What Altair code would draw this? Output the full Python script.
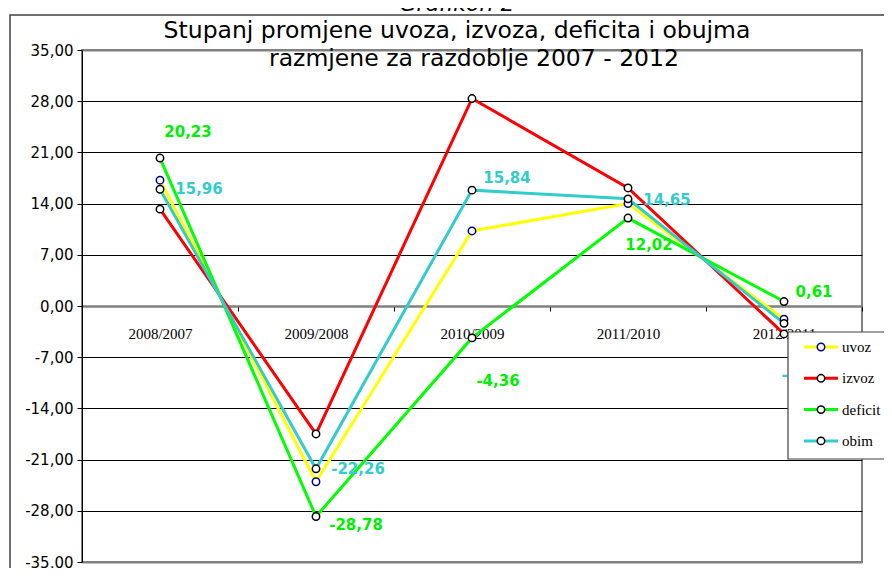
import altair as alt
import pandas as pd

categories = ["2008/2007", "2009/2008", "2010/2009", "2011/2010", "2012/2011"]
series_names = ["uvoz", "izvoz", "deficit", "obim"]
uvoz = [17.20, -24.03, 10.26, 14.01, -1.79]
izvoz = [13.24, -17.49, 28.36, 16.14, -3.82]
deficit = [20.23, -28.78, -4.36, 12.02, 0.61]
obim = [15.96, -22.26, 15.84, 14.65, -2.37]
y_ticks = [-35, -28, -21, -14, -7, 0, 7, 14, 21, 28, 35]
title_line1 = "Stupanj promjene uvoza, izvoza, deficita i obujma"
title_line2 = "razmjene za razdoblje 2007 - 2012"
caption = "Grafikon 2"
labelled_series = ["deficit", "obim"]

# styling (not data)
line_colors = {"uvoz": "#FFFF00", "izvoz": "#FF0000", "deficit": "#00FF00", "obim": "#33CCCC"}
marker_edges = {"uvoz": "#000080", "izvoz": "#000000", "deficit": "#000000", "obim": "#000000"}
label_colors = {"deficit": "#00EE00", "obim": "#33CCCC"}
label_offsets = {
    "deficit": [(28, -26), (40, 8), (26, 43), (21, 27), (30, -10)],
    "obim": [(39, 0), (42, 0), (35, -12), (39, 1), (19, 52)],
}

values = {"uvoz": uvoz, "izvoz": izvoz, "deficit": deficit, "obim": obim}
rows = []
for s in series_names:
    for i, (c, v) in enumerate(zip(categories, values[s])):
        rows.append({"series": s, "cat": c, "idx": i, "value": v,
                     "label": ("-" if v < 0 else "") + f"{abs(v):.2f}".replace(".", ",")})
df = pd.DataFrame(rows)

W, H = 780, 512

x_enc = alt.X(
    "cat:N",
    sort=categories,
    scale=alt.Scale(type="band", domain=categories, paddingInner=0, paddingOuter=0),
    axis=alt.Axis(
        title=None, orient="bottom", offset=-(H / 2), tickBand="extent",
        domainColor="#808080", domainWidth=2, tickColor="black", tickSize=5,
        labelFont="Liberation Serif", labelFontSize=15, labelColor="black",
        labelPadding=15, labelAngle=0, grid=False,
    ),
)
y_enc = alt.Y(
    "value:Q",
    scale=alt.Scale(domain=[-35, 35], nice=False, zero=False),
    axis=alt.Axis(
        values=y_ticks, title=None,
        labelExpr="(datum.value < 0 ? '-' : '') + replace(format(abs(datum.value), '.2f'), '.', ',')",
        grid=True,
        gridColor=alt.condition("abs(datum.value) == 35 || datum.value == 0", alt.value("#808080"), alt.value("#000000")),
        gridWidth=alt.condition("abs(datum.value) == 35 || datum.value == 0", alt.value(2), alt.value(1)),
        tickColor="black", tickSize=5, domainColor="black", domainWidth=1,
        labelFont="DejaVu Sans", labelFontSize=15, labelColor="black", labelPadding=4,
    ),
)

color_scale = alt.Scale(domain=series_names, range=[line_colors[s] for s in series_names])
edge_scale = alt.Scale(domain=series_names, range=[marker_edges[s] for s in series_names])

layers = []

# outer chart frame
layers.append(
    alt.Chart(pd.DataFrame({"k": [0]})).mark_rect(fillOpacity=0, stroke="#404040", strokeWidth=1.5).encode(
        x=alt.value(-72), x2=alt.value(900), y=alt.value(-35), y2=alt.value(600)
    )
)

lines = alt.Chart(df).mark_line(strokeWidth=3).encode(
    x=x_enc, y=y_enc,
    color=alt.Color("series:N", scale=color_scale, legend=None),
    order="idx:Q",
)
layers.append(lines)

points = alt.Chart(df).mark_point(shape="circle", filled=True, fill="white", size=55, strokeWidth=1.5, opacity=1).encode(
    x=alt.X("cat:N", sort=categories),
    y=alt.Y("value:Q"),
    stroke=alt.Stroke("series:N", scale=edge_scale, legend=None),
)
layers.append(points)

for s in labelled_series:
    sub = df[df.series == s]
    for i in range(len(categories)):
        dx, dy = label_offsets[s][i]
        layers.append(
            alt.Chart(sub[sub.idx == i]).mark_text(
                font="DejaVu Sans", fontSize=15, fontWeight="bold", color=label_colors[s],
                dx=dx, dy=dy, align="center", baseline="middle",
            ).encode(x=alt.X("cat:N", sort=categories), y=alt.Y("value:Q"), text="label:N")
        )

# titles
layers.append(
    alt.Chart(pd.DataFrame({"t": [title_line1]})).mark_text(
        font="DejaVu Sans", fontSize=23.5, color="black", align="center", baseline="alphabetic"
    ).encode(x=alt.value(375), y=alt.value(-12), text="t:N")
)
layers.append(
    alt.Chart(pd.DataFrame({"t": [title_line2]})).mark_text(
        font="DejaVu Sans", fontSize=23.5, color="black", align="center", baseline="alphabetic"
    ).encode(x=alt.value(392), y=alt.value(16), text="t:N")
)
layers.append(
    alt.Chart(pd.DataFrame({"t": [caption]})).mark_text(
        font="DejaVu Sans", fontSize=22, fontStyle="italic", color="black", align="center", baseline="alphabetic"
    ).encode(x=alt.value(375), y=alt.value(-39), text="t:N")
)

# legend box
LX = 706
layers.append(
    alt.Chart(pd.DataFrame({"k": [0]})).mark_rect(fill="white", stroke="#404040", strokeWidth=1.2).encode(
        x=alt.value(LX), x2=alt.value(830), y=alt.value(282), y2=alt.value(409)
    )
)
for j, s in enumerate(series_names):
    ly = 297 + j * 31.3
    one = pd.DataFrame({"name": [s]})
    layers.append(
        alt.Chart(one).mark_rule(color=line_colors[s], strokeWidth=3).encode(
            x=alt.value(LX + 16), x2=alt.value(LX + 50), y=alt.value(ly)
        )
    )
    layers.append(
        alt.Chart(one).mark_point(shape="circle", filled=True, fill="white", stroke=marker_edges[s],
                                  size=55, strokeWidth=1.5, opacity=1).encode(
            x=alt.value(LX + 33), y=alt.value(ly)
        )
    )
    layers.append(
        alt.Chart(one).mark_text(font="Liberation Serif", fontSize=15, color="black",
                                 align="left", baseline="middle").encode(
            x=alt.value(LX + 54), y=alt.value(ly), text="name:N"
        )
    )

chart = alt.layer(*layers).properties(
    width=W, height=H,
    padding={"left": 74, "top": 42, "right": 22, "bottom": 6},
    autosize=alt.AutoSizeParams(type="none"),
    background="white",
).configure_view(stroke="#808080", strokeWidth=2)

chart.save("out.html", embed_options={"renderer": "svg", "actions": False})
